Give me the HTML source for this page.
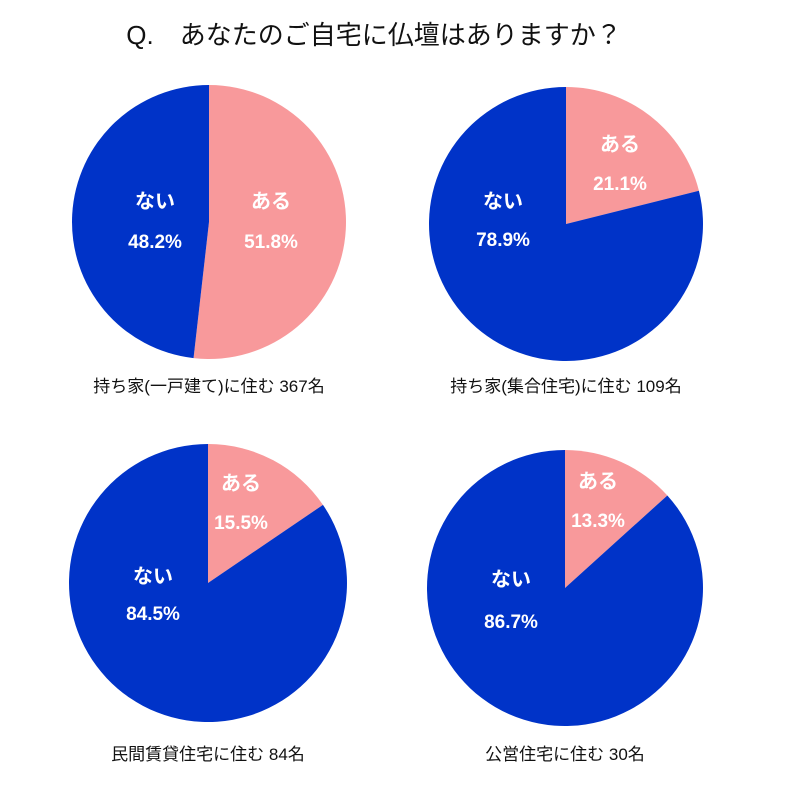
<!DOCTYPE html>
<html><head><meta charset="utf-8">
<style>
html,body{margin:0;padding:0;background:#fff;}
body{width:793px;height:799px;overflow:hidden;}
text{font-family:"Liberation Sans","Noto Sans CJK JP",sans-serif;}
</style></head>
<body>
<svg id="chart" width="793" height="799" viewBox="0 0 793 799" xmlns="http://www.w3.org/2000/svg">
<text x="374" y="44" text-anchor="middle" font-size="26" fill="#111">Q.　あなたのご自宅に仏壇はありますか？</text>
</svg>
<script>
const groups = ["持ち家(一戸建て)に住む 367名","持ち家(集合住宅)に住む 109名","民間賃貸住宅に住む 84名","公営住宅に住む 30名"];
const yesValues = [51.8, 21.1, 15.5, 13.3];
const noValues = [48.2, 78.9, 84.5, 86.7];
const categoryLabels = ["ある","ない"];

const layout = [
  {cx:209, cy:222, r:137, cap:392, yes:[271,208,248], no:[155,208,248]},
  {cx:566, cy:224, r:137, cap:392, yes:[620,151,190], no:[503,208,246]},
  {cx:208, cy:583, r:139, cap:760, yes:[241,490,529], no:[153,583,620]},
  {cx:565, cy:588, r:138, cap:760, yes:[598,488,527], no:[511,586,628]}
];
const NS="http://www.w3.org/2000/svg";
const svg=document.getElementById('chart');
function pt(cx,cy,r,frac){const a=frac*2*Math.PI;return [cx+r*Math.sin(a), cy-r*Math.cos(a)];}
function slice(L,f0,f1,color,name){
  const p=document.createElementNS(NS,'path');
  const [x0,y0]=pt(L.cx,L.cy,L.r,f0),[x1,y1]=pt(L.cx,L.cy,L.r,f1);
  const large=(f1-f0)>0.5?1:0;
  p.setAttribute('d',`M${L.cx},${L.cy} L${x0},${y0} A${L.r},${L.r} 0 ${large} 1 ${x1},${y1} Z`);
  p.setAttribute('fill',color);
  
  
  svg.appendChild(p);
}
function txt(x,y,s,size,fill,weight,name){
  const t=document.createElementNS(NS,'text');
  t.setAttribute('x',x);t.setAttribute('y',y);t.setAttribute('text-anchor','middle');
  t.setAttribute('font-size',size);t.setAttribute('fill',fill);t.setAttribute('font-weight',weight);
  t.textContent=s;
  
  
  svg.appendChild(t);
}
groups.forEach((g,i)=>{
  const L=layout[i];
  const tot=yesValues[i]+noValues[i];
  const fy=yesValues[i]/tot;
  slice(L,0,fy,'#f8999b','slice-yes');
  slice(L,fy,1,'#0033c8','slice-no');
  txt(L.yes[0],L.yes[1],categoryLabels[0],20,'#fff','bold','label-yes');
  txt(L.yes[0],L.yes[2],yesValues[i].toFixed(1)+'%',19,'#fff','bold','value-yes');
  txt(L.no[0],L.no[1],categoryLabels[1],20,'#fff','bold','label-no');
  txt(L.no[0],L.no[2],noValues[i].toFixed(1)+'%',19,'#fff','bold','value-no');
  txt(L.cx,L.cap,g,17,'#111','normal','pie-caption');
});
</script>
</body></html>
